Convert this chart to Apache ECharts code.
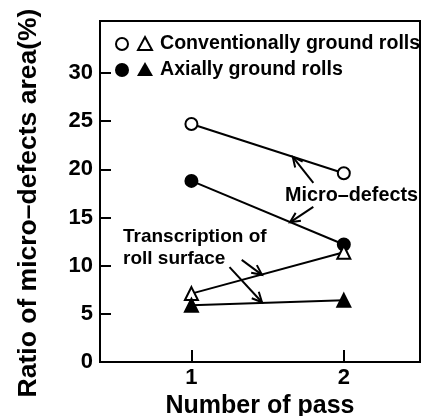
<!DOCTYPE html>
<html>
<head>
<meta charset="utf-8">
<title>Micro-defects</title>
<script src="https://cdn.jsdelivr.net/npm/echarts@6/dist/echarts.min.js"></script>
<style>
    html, body { margin: 0; padding: 0; background: #fff; }
    #chart { width: 427px; height: 416px; }
</style>
</head>
<body>
<div id="chart"></div>
<script>
    // data
    var passes = [1, 2];
    var convCircle = [24.7, 19.6];      // conventionally ground, micro-defects
    var axialCircle = [18.8, 12.2];     // axially ground, micro-defects
    var convTriangle = [7.1, 11.4];     // conventionally ground, transcription
    var axialTriangle = [5.9, 6.4];     // axially ground, transcription
    var yTicks = [0, 5, 10, 15, 20, 25, 30];
    var xTicks = [1, 2];

    // annotation arrows, [from, to] in data units
    var arrows = [
        [[1.80, 18.6], [1.665, 21.3]],
        [[1.80, 16.1], [1.647, 14.5]],
        [[1.33, 10.6], [1.463, 9.05]],
        [[1.25, 9.85], [1.463, 6.2]]
    ];

    var font = '"Liberation Sans", Arial, Helvetica, sans-serif';

    function pts(ys) {
        return passes.map(function (x, i) { return [x, ys[i]]; });
    }

    var chart = echarts.init(document.getElementById('chart'));

    var lineSeries = function (name, ys, symbol, filled) {
        return {
            name: name,
            type: 'line',
            data: pts(ys),
            symbol: symbol,
            symbolSize: symbol == 'circle' ? 12 : 13,
            showAllSymbol: true,
            animation: false,
            lineStyle: { color: '#000', width: 2 },
            itemStyle: {
                color: filled ? '#000' : '#fff',
                borderColor: '#000',
                borderWidth: 2
            },
            z: 3
        };
    };

    var option = {
        animation: false,
        textStyle: { fontFamily: font, color: '#000' },
        grid: {
            left: 100, right: 7, top: 21, bottom: 54,
            show: true, borderColor: '#000', borderWidth: 2,
            containLabel: false, outerBoundsMode: 'none'
        },
        xAxis: {
            type: 'value',
            min: 0.4, max: 2.5,
            name: 'Number of pass',
            nameLocation: 'middle',
            nameGap: 24,
            nameTextStyle: { fontSize: 25, fontWeight: 'bold', color: '#000', fontFamily: font },
            axisLine: { show: true, lineStyle: { color: '#000', width: 2 } },
            axisTick: { show: true, inside: true, length: 12, customValues: xTicks, lineStyle: { color: '#000', width: 2 } },
            axisLabel: { customValues: xTicks, fontSize: 22, fontWeight: 'bold', color: '#000', margin: 5, fontFamily: font },
            splitLine: { show: false }
        },
        yAxis: {
            type: 'value',
            min: 0, max: 35.4,
            axisLine: { show: true, lineStyle: { color: '#000', width: 2 } },
            axisTick: { show: true, inside: true, length: 11, customValues: yTicks, lineStyle: { color: '#000', width: 2 } },
            axisLabel: { customValues: yTicks, fontSize: 22, fontWeight: 'bold', color: '#000', margin: 7, fontFamily: font },
            splitLine: { show: false }
        },
        series: [
            lineSeries('Conventionally ground rolls (micro-defects)', convCircle, 'circle', false),
            lineSeries('Axially ground rolls (micro-defects)', axialCircle, 'circle', true),
            lineSeries('Conventionally ground rolls (transcription)', convTriangle, 'triangle', false),
            lineSeries('Axially ground rolls (transcription)', axialTriangle, 'triangle', true)
        ]
    };

    chart.setOption(option);

    // legend, titles, annotation texts and arrows
    var g = [];
    var txt = function (x, y, s, size) {
        g.push({
            type: 'text', x: x, y: y, z: 10,
            style: { text: s, fill: '#000', font: 'bold ' + size + 'px ' + font, textVerticalAlign: 'middle' }
        });
    };

    // y axis title, centred a bit below the plot middle as in the original
    g.push({
        type: 'text', x: 29, y: 203, rotation: Math.PI / 2, z: 10,
        style: {
            text: 'Ratio of micro\u2013defects area(%)', fill: '#000',
            font: 'bold 26.5px ' + font, textAlign: 'center', textVerticalAlign: 'middle'
        }
    });

    g.push({ type: 'circle', shape: { cx: 122, cy: 44, r: 6 }, style: { fill: '#fff', stroke: '#000', lineWidth: 2 }, z: 10 });
    g.push({ type: 'polygon', shape: { points: [[145, 37], [152, 50], [138, 50]] }, style: { fill: '#fff', stroke: '#000', lineWidth: 2 }, z: 10 });
    g.push({ type: 'circle', shape: { cx: 122, cy: 70, r: 7 }, style: { fill: '#000' }, z: 10 });
    g.push({ type: 'polygon', shape: { points: [[145, 62], [153, 76], [137, 76]] }, style: { fill: '#000' }, z: 10 });
    txt(160, 44, 'Conventionally ground rolls', 19.6);
    txt(160, 70, 'Axially ground rolls', 19.6);

    txt(285, 196, 'Micro\u2013defects', 19.8);
    txt(123, 237, 'Transcription of', 19);
    txt(123, 259, 'roll surface', 19);

    arrows.forEach(function (a) {
        var p0 = chart.convertToPixel({ gridIndex: 0 }, a[0]);
        var p1 = chart.convertToPixel({ gridIndex: 0 }, a[1]);
        var ang = Math.atan2(p0[1] - p1[1], p0[0] - p1[0]);
        var len = 11, spread = 0.45;
        var h1 = [p1[0] + len * Math.cos(ang + spread), p1[1] + len * Math.sin(ang + spread)];
        var h2 = [p1[0] + len * Math.cos(ang - spread), p1[1] + len * Math.sin(ang - spread)];
        g.push({ type: 'polyline', shape: { points: [p0, p1] }, style: { stroke: '#000', lineWidth: 2, fill: null }, z: 10 });
        g.push({ type: 'polyline', shape: { points: [h1, p1, h2] }, style: { stroke: '#000', lineWidth: 2, fill: null }, z: 10 });
    });

    chart.setOption({ graphic: g });
</script>
</body>
</html>
